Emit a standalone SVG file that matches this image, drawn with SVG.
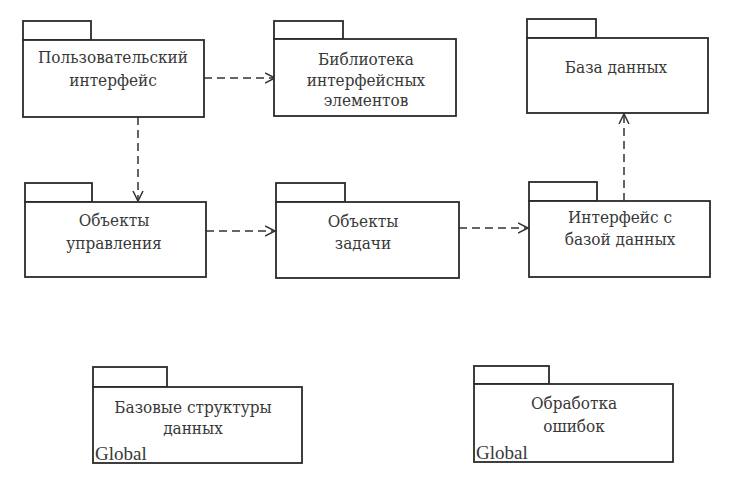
<svg xmlns="http://www.w3.org/2000/svg" width="736" height="486" viewBox="0 0 736 486">
<style>
.box{fill:#fff;stroke:#2a2a2a;stroke-width:1.8}
.lbl{font-family:"DejaVu Serif","Liberation Serif",serif;font-size:17px;fill:#383838;text-anchor:middle;font-stretch:condensed}
.glb{font-family:"Liberation Serif","Times New Roman",serif;font-size:19px;fill:#383838}
.dep{fill:none;stroke:#333;stroke-width:1.5;stroke-dasharray:8 5}
</style>
<defs>
<marker id="arr" markerUnits="userSpaceOnUse" markerWidth="12" markerHeight="12" refX="10" refY="5" orient="auto" viewBox="0 0 12 10">
<path d="M0,0 L10,5 L0,10" fill="none" stroke="#333" stroke-width="1.5"/>
</marker>
</defs>
<rect width="736" height="486" fill="#fff"/>
<g id="connectors">
<line class="dep" x1="204" y1="78" x2="275" y2="78" marker-end="url(#arr)"/>
<line class="dep" x1="138" y1="117" x2="138" y2="201" marker-end="url(#arr)"/>
<line class="dep" x1="206" y1="231" x2="275" y2="231" marker-end="url(#arr)"/>
<line class="dep" x1="459" y1="228" x2="528" y2="228" marker-end="url(#arr)"/>
<line class="dep" x1="624" y1="201" x2="624" y2="114" marker-end="url(#arr)"/>
</g>
<g id="ui">
<rect class="box" x="23" y="21" width="68" height="19"/>
<rect class="box" x="23" y="40" width="181" height="77"/>
<text class="lbl" x="113" y="63">Пользовательский</text>
<text class="lbl" x="113" y="86">интерфейс</text>
</g>
<g id="lib">
<rect class="box" x="274" y="21" width="69" height="18"/>
<rect class="box" x="274" y="39" width="182" height="77"/>
<text class="lbl" x="366" y="65">Библиотека</text>
<text class="lbl" x="366" y="86">интерфейсных</text>
<text class="lbl" x="366" y="106">элементов</text>
</g>
<g id="db">
<rect class="box" x="527" y="19" width="69" height="19"/>
<rect class="box" x="527" y="38" width="181" height="75"/>
<text class="lbl" x="616" y="73">База данных</text>
</g>
<g id="ctrl">
<rect class="box" x="25" y="183" width="67" height="19"/>
<rect class="box" x="25" y="202" width="181" height="75"/>
<text class="lbl" x="114" y="226">Объекты</text>
<text class="lbl" x="114" y="249">управления</text>
</g>
<g id="task">
<rect class="box" x="276" y="183" width="69" height="19"/>
<rect class="box" x="276" y="202" width="183" height="76"/>
<text class="lbl" x="363" y="227">Объекты</text>
<text class="lbl" x="363" y="249">задачи</text>
</g>
<g id="dbif">
<rect class="box" x="529" y="182" width="68" height="19"/>
<rect class="box" x="529" y="201" width="181" height="76"/>
<text class="lbl" x="620" y="223">Интерфейс с</text>
<text class="lbl" x="620" y="245">базой данных</text>
</g>
<g id="ds">
<rect class="box" x="93" y="367" width="74" height="20"/>
<rect class="box" x="93" y="387" width="209" height="76"/>
<text class="lbl" x="193" y="413">Базовые структуры</text>
<text class="lbl" x="193" y="434">данных</text>
<text class="glb" x="95" y="460">Global</text>
</g>
<g id="err">
<rect class="box" x="474" y="366" width="75" height="18"/>
<rect class="box" x="474" y="384" width="199" height="78"/>
<text class="lbl" x="574" y="409">Обработка</text>
<text class="lbl" x="574" y="432">ошибок</text>
<text class="glb" x="476" y="459">Global</text>
</g>
</svg>
